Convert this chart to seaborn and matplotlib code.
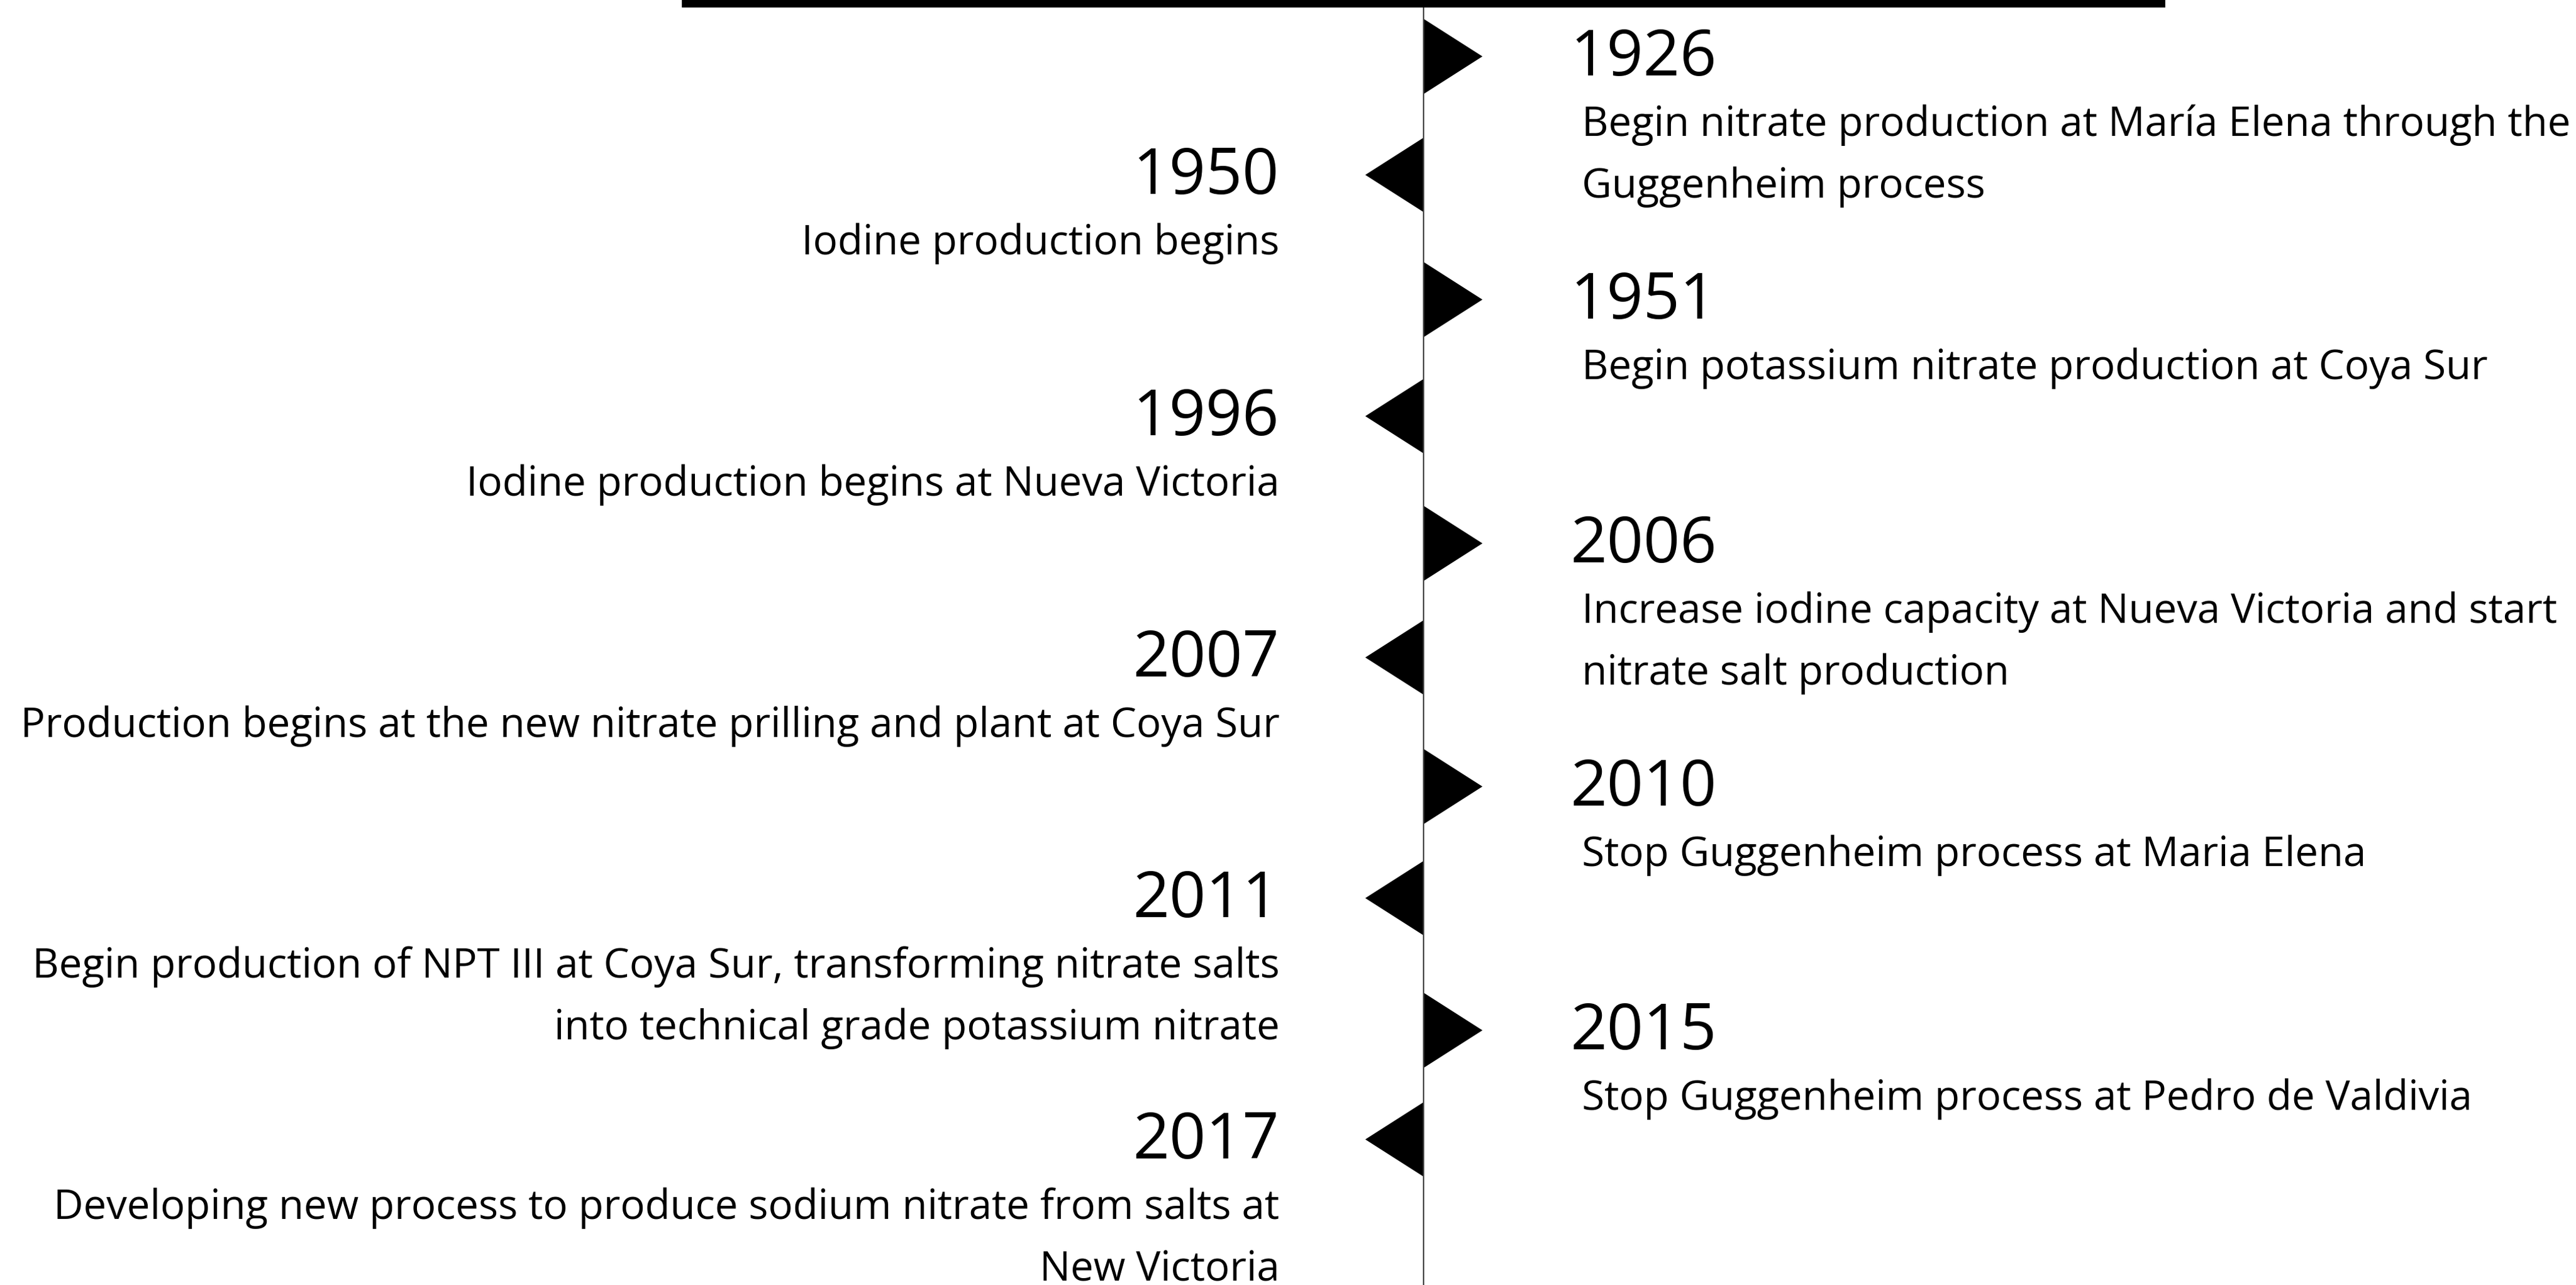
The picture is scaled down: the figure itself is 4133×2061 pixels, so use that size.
import numpy as np
import pandas as pd
import matplotlib
matplotlib.use("Agg")
import matplotlib.pyplot as plt
from matplotlib.markers import MarkerStyle
import seaborn as sns

sns.set_style("white")
plt.rcParams["font.family"] = ["Open Sans", "DejaVu Sans"]

# ---- data ----
years = ["1926", "1950", "1951", "1996", "2006", "2007", "2010", "2011", "2015", "2017"]
sides = ["right", "left", "right", "left", "right", "left", "right", "left", "right", "left"]
# vertical slot of each event on the timeline (pixels from top)
slot_y = [90, 280, 480, 667, 871, 1054, 1261, 1440, 1652, 1827]
events = [
    "Begin nitrate production at María Elena through the\nGuggenheim process",
    "Iodine production begins",
    "Begin potassium nitrate production at Coya Sur",
    "Iodine production begins at Nueva Victoria",
    "Increase iodine capacity at Nueva Victoria and start\nnitrate salt production",
    "Production begins at the new nitrate prilling and plant at Coya Sur",
    "Stop Guggenheim process at Maria Elena",
    "Begin production of NPT III at Coya Sur, transforming nitrate salts\ninto technical grade potassium nitrate",
    "Stop Guggenheim process at Pedro de Valdivia",
    "Developing new process to produce sodium nitrate from salts at\nNew Victoria",
]

df = pd.DataFrame({"year": years, "side": sides, "y": slot_y, "text": events})

# ---- layout ----
W, H = 4133, 2061
DPI = 100
PX = 72 / DPI          # points per pixel
line_x = 2284
bar_x0, bar_x1 = 1094, 3474

fig = plt.figure(figsize=(W / DPI, H / DPI), dpi=DPI)
ax = fig.add_axes([0, 0, 1, 1])

# top bar and timeline spine
ax.hlines(6, bar_x0, bar_x1, color="black", linewidth=12 * PX, capstyle="butt")
ax.vlines(line_x, 12, H, color="#444444", linewidth=2.2 * PX)

# flag markers
tri_w, tri_h = 94, 120
size = (2 * tri_w * PX) ** 2
right_marker = MarkerStyle([(0, -tri_h / 2), (tri_w, 0), (0, tri_h / 2), (0, -tri_h / 2)])
left_marker = MarkerStyle([(0, -tri_h / 2), (-tri_w, 0), (0, tri_h / 2), (0, -tri_h / 2)])

df["x"] = line_x
sns.scatterplot(data=df[df["side"] == "right"], x="x", y="y", marker=right_marker,
                s=size, color="black", linewidth=0, ax=ax, legend=False)
sns.scatterplot(data=df[df["side"] == "left"], x="x", y="y", marker=left_marker,
                s=size, color="black", linewidth=0, ax=ax, legend=False)
ax.set_xlim(0, W)
ax.set_ylim(H, 0)
ax.axis("off")

# labels
year_size = 74
text_size = 47.4
line_gap = 99
for _, row in df.iterrows():
    if row["side"] == "right":
        yx, tx, ha = 2520, 2538, "left"
    else:
        yx, tx, ha = 2053, 2053, "right"
    ax.text(yx, row["y"] + 31, row["year"], fontsize=year_size, ha=ha, va="baseline",
            color="black")
    for i, line in enumerate(row["text"].split("\n")):
        ax.text(tx, row["y"] + 128 + i * line_gap, line,
                fontsize=text_size, ha=ha, va="baseline", color="black")

fig.savefig("out.png", dpi=DPI, facecolor="white")
